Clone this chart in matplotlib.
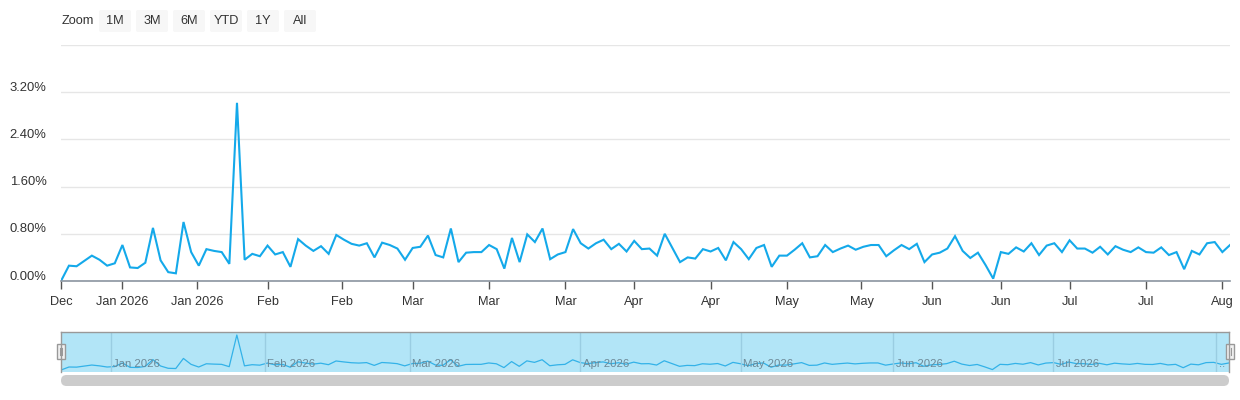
import numpy as np
import pandas as pd
import matplotlib
matplotlib.use('Agg')
import matplotlib.pyplot as plt
import matplotlib.patches as patches
from matplotlib.transforms import ScaledTranslation

plt.rcParams['font.family'] = ['Liberation Sans', 'DejaVu Sans']

W, H = 1240, 400

# trading days (NYSE calendar), Dec 22 2025 .. Aug 4 2026
holidays = ['2025-12-25', '2026-01-01', '2026-01-19', '2026-02-16',
            '2026-04-03', '2026-05-25', '2026-06-19', '2026-07-03']
dates = pd.bdate_range('2025-12-22', '2026-08-04', freq='C', holidays=holidays)

# daily values in percent
values = [
    0.01, 0.26, 0.25, 0.34, 0.43, 0.36, 0.26, 0.30, 0.61, 0.23,
    0.22, 0.31, 0.90, 0.35, 0.15, 0.13, 1.00, 0.49, 0.26, 0.54,
    0.51, 0.49, 0.29, 3.02, 0.36, 0.46, 0.42, 0.60, 0.45, 0.49,
    0.24, 0.71, 0.60, 0.51, 0.59, 0.46, 0.78, 0.70, 0.63, 0.60,
    0.64, 0.40, 0.65, 0.61, 0.55, 0.36, 0.56, 0.58, 0.77, 0.44,
    0.40, 0.89, 0.32, 0.48, 0.49, 0.49, 0.61, 0.54, 0.21, 0.73,
    0.32, 0.79, 0.66, 0.89, 0.37, 0.45, 0.49, 0.88, 0.64, 0.55,
    0.64, 0.70, 0.54, 0.63, 0.50, 0.68, 0.54, 0.55, 0.43, 0.80,
    0.56, 0.32, 0.40, 0.38, 0.54, 0.50, 0.56, 0.35, 0.66, 0.54,
    0.37, 0.56, 0.61, 0.24, 0.43, 0.43, 0.53, 0.64, 0.40, 0.42,
    0.61, 0.49, 0.55, 0.60, 0.53, 0.58, 0.61, 0.61, 0.42, 0.52,
    0.61, 0.54, 0.63, 0.32, 0.45, 0.48, 0.55, 0.76, 0.51, 0.39,
    0.48, 0.27, 0.04, 0.49, 0.46, 0.57, 0.50, 0.64, 0.44, 0.60,
    0.64, 0.49, 0.69, 0.55, 0.55, 0.48, 0.58, 0.45, 0.59, 0.53,
    0.49, 0.57, 0.49, 0.48, 0.57, 0.44, 0.49, 0.20, 0.51, 0.45,
    0.64, 0.66, 0.49, 0.61,
]

tick_dates = pd.date_range('2025-12-22', '2026-08-03', freq='2W-MON')
tick_labels = ['Dec', 'Jan 2026', 'Jan 2026', 'Feb', 'Feb', 'Mar', 'Mar', 'Mar',
               'Apr', 'Apr', 'May', 'May', 'Jun', 'Jun', 'Jul', 'Jul', 'Aug']

month_starts = pd.date_range('2026-01-01', '2026-08-01', freq='MS')
nav_labels = ['Jan 2026', 'Feb 2026', 'Mar 2026', 'Apr 2026',
              'May 2026', 'Jun 2026', 'Jul 2026', '..']

y_ticks = [0.0, 0.8, 1.6, 2.4, 3.2, 4.0]
y_labels = ['0.00%', '0.80%', '1.60%', '2.40%', '3.20%', '']

zoom_buttons = ['1M', '3M', '6M', 'YTD', '1Y', 'All']

# ordinal x axis (no gaps for non-trading days)
idx = np.arange(len(dates))
date_num = dates.asi8.astype(float)
tick_pos = np.interp(tick_dates.asi8.astype(float), date_num, idx)
month_pos = np.interp(month_starts.asi8.astype(float), date_num, idx)

line_color = '#14a9ea'
text_color = '#333333'

fig = plt.figure(figsize=(W / 100, H / 100), dpi=100)

# main plot
x0, x1 = 61.3, 1230
ax = fig.add_axes([x0 / W, 1 - 281 / H, (x1 - x0) / W, (281 - 45) / H])
ax.plot(idx, values, color=line_color, lw=1.5, solid_joinstyle='miter')
ax.set_xlim(0, len(dates) - 1)
ax.set_ylim(0, 4.0)
ax.set_yticks(y_ticks)
ax.set_yticklabels(y_labels, fontsize=9.4, color=text_color)
ax.yaxis.grid(True, color='#e6e6e6', lw=1)
ax.set_axisbelow(True)
ax.tick_params(axis='y', length=0, pad=10.5)
for lab in ax.get_yticklabels():
    lab.set_transform(lab.get_transform() + ScaledTranslation(0, 0.06, fig.dpi_scale_trans))
ax.set_xticks(tick_pos)
ax.set_xticklabels(tick_labels, fontsize=9.2, color=text_color)
ax.tick_params(axis='x', length=5.8, width=1, color='#555555', pad=5)
for s in ['top', 'right', 'left']:
    ax.spines[s].set_visible(False)
ax.spines['bottom'].set_color('#8b95a0')
ax.spines['bottom'].set_linewidth(1.2)

# navigator
nav_top, nav_bot = 332, 372
nav = fig.add_axes([x0 / W, 1 - nav_bot / H, (1229 - x0) / W, (nav_bot - nav_top) / H])
nav.set_facecolor('#b2e5f7')
nav.plot(idx, values, color='#33b2e8', lw=0.9)
nav.set_xlim(0, len(dates) - 1)
nav.set_ylim(-0.17, 3.28)
for p, lab in zip(month_pos, nav_labels):
    nav.axvline(p, color='#9acde2', lw=1)
    nav.annotate(lab, (p, 0.2), xycoords=('data', 'axes fraction'),
                 xytext=(2.5, 0), textcoords='offset pixels',
                 fontsize=8.2, color='#6c8896', va='center', ha='left',
                 annotation_clip=False)
nav.set_xticks([])
nav.set_yticks([])
for s in nav.spines.values():
    s.set_visible(False)

# overlay in pixel coords for buttons, handles, scrollbar
ov = fig.add_axes([0, 0, 1, 1])
ov.set_xlim(0, W)
ov.set_ylim(H, 0)
ov.axis('off')

ov.text(62, 21, 'Zoom', fontsize=9.2, color=text_color, va='center', ha='left')
for i, b in enumerate(zoom_buttons):
    bx = 99 + i * 37
    ov.add_patch(patches.FancyBboxPatch((bx, 10), 32, 22,
                                        boxstyle='round,pad=0,rounding_size=2',
                                        fc='#f7f7f7', ec='none'))
    ov.text(bx + 16, 21.5, b, fontsize=9.2, color=text_color, ha='center', va='center')

# navigator outline
ov.plot([61, 1229], [nav_top, nav_top], color='#999999', lw=1)
ov.plot([61, 61], [nav_top, nav_bot], color='#999999', lw=1)
ov.plot([1229, 1229], [nav_top, nav_bot], color='#999999', lw=1)

# navigator handles
for hx in [57, 1225.5]:
    ov.add_patch(patches.Rectangle((hx, 344), 8, 15, fc='#f2f2f2', ec='#999999', lw=1))
    ov.plot([hx + 3, hx + 3], [348, 355], color='#999999', lw=0.8)
    ov.plot([hx + 5, hx + 5], [348, 355], color='#999999', lw=0.8)

# scrollbar
ov.add_patch(patches.FancyBboxPatch((61, 375), 1168, 11,
                                    boxstyle='round,pad=0,rounding_size=5.5',
                                    fc='#cccccc', ec='none'))

fig.savefig('out.png', dpi=100)
